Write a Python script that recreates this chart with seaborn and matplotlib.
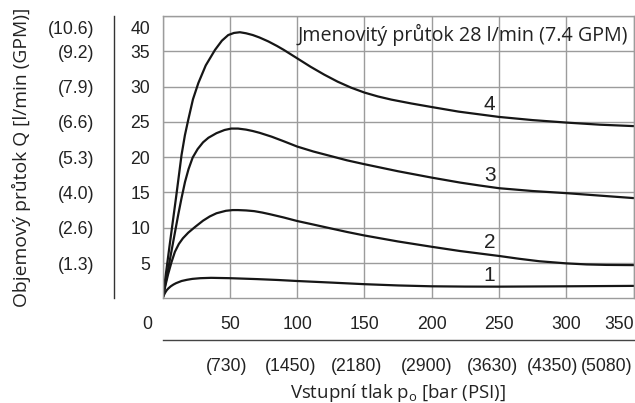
import numpy as np
import pandas as pd
import seaborn as sns
import matplotlib.pyplot as plt
from matplotlib.transforms import ScaledTranslation

# ---------------- data ----------------
bar_ticks = [0, 50, 100, 150, 200, 250, 300, 350]
bar_labels = ["0", "50", "100", "150", "200", "250", "300", "350"]
psi_labels = ["", "(730)", "(1450)", "(2180)", "(2900)", "(3630)", "(4350)", "(5080)"]
q_ticks = [5, 10, 15, 20, 25, 30, 35, 40]
q_labels = ["5", "10", "15", "20", "25", "30", "35", "40"]
gpm_ticks = [0, 5, 10, 15, 20, 25, 30, 35, 40]
gpm_labels = ["", "(1.3)", "(2.6)", "(4.0)", "(5.3)", "(6.6)", "(7.9)", "(9.2)", "(10.6)"]

curve1_p = [0, 1, 2, 3, 4.2, 6, 8, 10, 14, 18, 22, 28, 36, 50, 70, 85, 100, 125, 150, 175, 200, 225, 250, 300, 350]
curve1_q = [0, 0.5, 0.85, 1.15, 1.4, 1.7, 1.95, 2.15, 2.45, 2.62, 2.75, 2.85, 2.9, 2.85, 2.72, 2.6, 2.45, 2.23, 2.0, 1.82, 1.7, 1.66, 1.65, 1.7, 1.76]

curve2_p = [0, 2, 4, 6.5, 9.1, 12, 15, 19, 24, 30, 35, 40, 47, 52, 56, 62, 68, 74, 80, 90, 100, 112, 125, 137, 150, 175, 200, 221, 250, 265, 280, 300, 315, 330, 350]
curve2_q = [0, 1.8, 3.4, 5.1, 6.6, 7.7, 8.5, 9.3, 10.1, 11.0, 11.6, 12.05, 12.4, 12.5, 12.5, 12.45, 12.35, 12.15, 11.9, 11.45, 10.95, 10.45, 9.9, 9.4, 8.9, 8.05, 7.3, 6.7, 6.0, 5.6, 5.25, 4.95, 4.8, 4.73, 4.7]

curve3_p = [0, 4, 8, 11.6, 14, 16.6, 19.2, 22.3, 26, 30, 34, 40, 46, 51, 56, 62, 67, 72, 81, 90, 100, 112, 125, 137, 150, 175, 200, 221, 235, 250, 275, 300, 325, 350]
curve3_q = [0, 4.1, 8.2, 11.9, 14.2, 16.5, 18.3, 19.95, 21.15, 22.1, 22.75, 23.4, 23.85, 24.05, 24.05, 23.9, 23.7, 23.45, 22.9, 22.25, 21.5, 20.8, 20.15, 19.55, 19.0, 18.0, 17.1, 16.4, 16.0, 15.6, 15.2, 14.9, 14.55, 14.2]

curve4_p = [0, 5, 10, 14, 16.5, 19, 22.5, 26.5, 32, 38.9, 44, 48.7, 53, 57.4, 62, 67, 72, 78.5, 85, 90, 95, 100, 110, 120, 130, 140, 150, 160, 170, 185, 200, 220, 250, 275, 300, 325, 350]
curve4_q = [0, 7.3, 14.4, 20.3, 23.1, 25.3, 28.2, 30.5, 33.0, 35.2, 36.5, 37.3, 37.6, 37.7, 37.55, 37.3, 36.95, 36.4, 35.75, 35.2, 34.6, 34.0, 32.8, 31.7, 30.7, 29.85, 29.15, 28.6, 28.15, 27.6, 27.1, 26.45, 25.7, 25.25, 24.9, 24.6, 24.4]

curve_names = ["1", "2", "3", "4"]
title_text = "Jmenovitý průtok 28 l/min (7.4 GPM)"
xlabel_text = "Vstupní tlak p$_\\mathrm{o}$ [bar (PSI)]"
ylabel_text = "Objemový průtok Q [l/min (GPM)]"

df = pd.concat([
    pd.DataFrame({"p": p, "q": q, "curve": name})
    for name, p, q in zip(curve_names,
                          [curve1_p, curve2_p, curve3_p, curve4_p],
                          [curve1_q, curve2_q, curve3_q, curve4_q])
], ignore_index=True)

# ---------------- style ----------------
sns.set_theme(style="white")
plt.rcParams["font.family"] = ["Liberation Sans", "DejaVu Sans"]
plt.rcParams["mathtext.fontset"] = "custom"
plt.rcParams["mathtext.rm"] = "Open Sans"
plt.rcParams["mathtext.it"] = "Open Sans:italic"
plt.rcParams["mathtext.bf"] = "Open Sans:bold"

TXT = "#222222"
GRID = "#9c9c9c"
LINE = "#161616"
W, H = 635, 403
DPI = 100
L, R, T, B = 162.7, 633.5, 16.0, 298.3

fig = plt.figure(figsize=(W / DPI, H / DPI), dpi=DPI)

ax = fig.add_axes([L / W, 1 - B / H, (R - L) / W, (B - T) / H])
sns.lineplot(data=df, x="p", y="q", units="curve", estimator=None, sort=False,
             color=LINE, linewidth=1.6, ax=ax, legend=False)
for ln in ax.get_lines():
    ln.set_solid_joinstyle("round")
    ln.set_solid_capstyle("round")
ax.set_xlim(0, 350)
ax.set_ylim(0, 40)
ax.set_axisbelow(True)
ax.set_xticks(bar_ticks, bar_labels)
ax.set_yticks(q_ticks, q_labels)
ax.grid(True, color=GRID, linewidth=1.0)
for s in ax.spines.values():
    s.set_color(GRID)
    s.set_linewidth(1.0)
ax.tick_params(axis="both", length=0, labelsize=12.7, labelcolor=TXT)
ax.tick_params(axis="x", pad=12.5)
ax.tick_params(axis="y", pad=9.1)
ax.set_xlabel("")
ax.set_ylabel(ylabel_text, family=["Open Sans", "DejaVu Sans"], fontsize=13.9,
              color=TXT, va="center")
ax.yaxis.set_label_coords(21 / W, 1 - 157 / H, transform=fig.transFigure)

xl = ax.xaxis.get_major_ticks()
xl[0].label1.set_transform(xl[0].label1.get_transform()
                           + ScaledTranslation(-15 / DPI, 0, fig.dpi_scale_trans))
xl[-1].label1.set_horizontalalignment("right")
yl = ax.yaxis.get_major_ticks()
yl[-1].label1.set_transform(yl[-1].label1.get_transform()
                            + ScaledTranslation(0, -12 / DPI, fig.dpi_scale_trans))

ax.text(0.9883, 0.9327, title_text, transform=ax.transAxes, ha="right", va="center",
        family=["Open Sans", "DejaVu Sans"], fontsize=14.2, color=TXT)

label_pos = {"4": (242.5, 27.45), "3": (243.5, 17.4), "2": (243, 7.9), "1": (243, 3.2)}
for name in curve_names:
    px, py = label_pos[name]
    ax.text(px, py, name, ha="center", va="center", fontsize=15, color=TXT)

# ---------------- left GPM axis ----------------
axl = fig.add_axes([114.3 / W, 1 - B / H, 0.0001, (B - T) / H])
axl.set_ylim(0, 40)
axl.patch.set_visible(False)
for k, s in axl.spines.items():
    s.set_visible(k == "left")
axl.spines["left"].set_color("#333333")
axl.spines["left"].set_linewidth(1.0)
axl.set_xticks([])
axl.set_yticks(gpm_ticks, gpm_labels)
axl.tick_params(axis="y", direction="out", length=5, width=1.0, color="#333333",
                labelsize=12.7, labelcolor=TXT, pad=9.1)
gl = axl.yaxis.get_major_ticks()
gl[-1].label1.set_transform(gl[-1].label1.get_transform()
                            + ScaledTranslation(0, -12 / DPI, fig.dpi_scale_trans))

# ---------------- bottom PSI axis ----------------
axp = fig.add_axes([L / W, 1 - 339.5 / H, (R - L) / W, 0.0001])
axp.set_xlim(0, 350)
axp.patch.set_visible(False)
for k, s in axp.spines.items():
    s.set_visible(k == "bottom")
axp.spines["bottom"].set_color("#444444")
axp.spines["bottom"].set_linewidth(1.0)
axp.set_yticks([])
axp.set_xticks(bar_ticks, psi_labels)
axp.tick_params(axis="x", direction="out", length=7, width=1.0, color="#444444",
                labelsize=12.7, labelcolor=TXT, pad=6)
psi_shift_px = [0, -3, -6.5, -7.5, -5.5, -6, -14, -27]
for t, sh in zip(axp.xaxis.get_major_ticks(), psi_shift_px):
    t.label1.set_transform(t.label1.get_transform()
                           + ScaledTranslation(sh / DPI, 0, fig.dpi_scale_trans))
axp.set_xlabel(xlabel_text, family=["Open Sans", "DejaVu Sans"], fontsize=13.4,
               color=TXT, va="baseline")
axp.xaxis.set_label_coords(398 / W, 1 - 398 / H, transform=fig.transFigure)

fig.savefig("out.png", dpi=DPI)
